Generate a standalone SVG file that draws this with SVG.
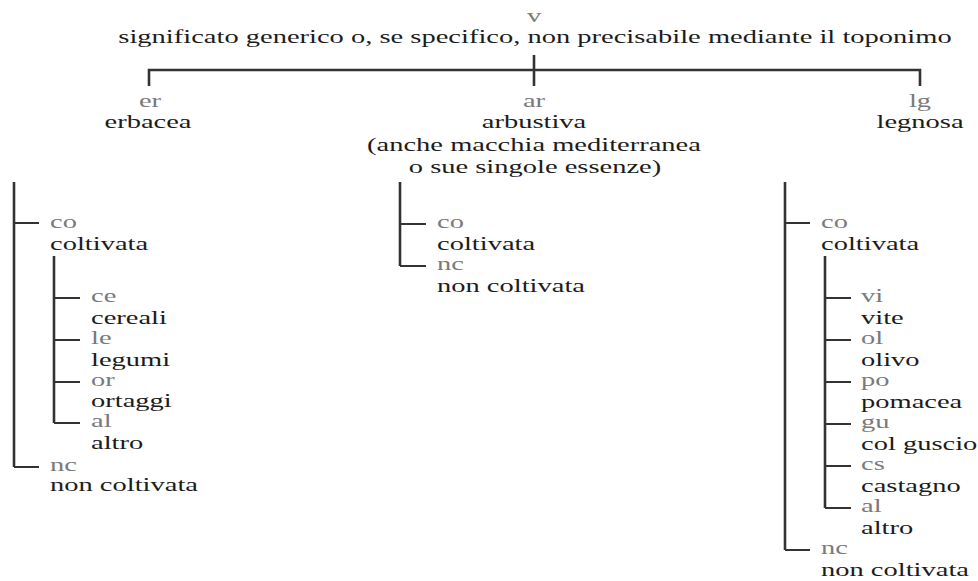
<svg xmlns="http://www.w3.org/2000/svg" width="978" height="581" viewBox="0 0 978 581" font-family="'Liberation Serif', 'Times New Roman', Times, serif" font-size="19">
  <style>
    .code { fill: #7a7a7a; }
    .lbl { fill: #1c1c1c; }
    .mid { text-anchor: middle; }
    .trunk { fill: none; stroke: #333; stroke-width: 2.6; }
    .twig { fill: none; stroke: #333; stroke-width: 2; }
  </style>
  <rect width="978" height="581" fill="#fff"/>

  <!-- connectors -->
  <g id="connectors">
    <path class="trunk" d="M149,86 V70 H920 V86 M534,55 V86"/>
    <!-- erbacea -->
    <path class="trunk" d="M14,182 V467"/>
    <path class="twig" d="M14,223 H39 M14,467 H39"/>
    <path class="trunk" d="M54,256 V423"/>
    <path class="twig" d="M54,298 H80 M54,340 H80 M54,382 H80 M54,423 H80"/>
    <!-- arbustiva -->
    <path class="trunk" d="M400,182 V266"/>
    <path class="twig" d="M400,224 H426 M400,266 H426"/>
    <!-- legnosa -->
    <path class="trunk" d="M785,182 V550"/>
    <path class="twig" d="M785,223 H810 M785,550 H810"/>
    <path class="trunk" d="M825,256 V508"/>
    <path class="twig" d="M825,298 H851 M825,340 H851 M825,382 H851 M825,424 H851 M825,466 H851 M825,508 H851"/>
  </g>

  <!-- root -->
  <g id="v">
    <text class="code mid" transform="translate(534 22) scale(1.5 1)">v</text>
    <text class="lbl mid" transform="translate(535 43) scale(1.5 1)">significato generico o, se specifico, non precisabile mediante il toponimo</text>
  </g>

  <!-- level 1 -->
  <g id="er">
    <text class="code mid" transform="translate(150 107) scale(1.5 1)">er</text>
    <text class="lbl mid" transform="translate(148 128) scale(1.5 1)">erbacea</text>
  </g>
  <g id="ar">
    <text class="code mid" transform="translate(534 107) scale(1.5 1)">ar</text>
    <text class="lbl mid" transform="translate(534 128) scale(1.5 1)">arbustiva</text>
    <text class="lbl mid" transform="translate(534 151) scale(1.5 1)">(anche macchia mediterranea</text>
    <text class="lbl mid" transform="translate(535 173) scale(1.5 1)">o sue singole essenze)</text>
  </g>
  <g id="lg">
    <text class="code mid" transform="translate(920 107) scale(1.5 1)">lg</text>
    <text class="lbl mid" transform="translate(920 128) scale(1.5 1)">legnosa</text>
  </g>

  <!-- erbacea children -->
  <g id="er-co">
    <text class="code" transform="translate(50 228) scale(1.5 1)">co</text>
    <text class="lbl" transform="translate(50 250) scale(1.5 1)">coltivata</text>
  </g>
  <g id="er-co-ce">
    <text class="code" transform="translate(91 302) scale(1.5 1)">ce</text>
    <text class="lbl" transform="translate(91 324) scale(1.5 1)">cereali</text>
  </g>
  <g id="er-co-le">
    <text class="code" transform="translate(91 344) scale(1.5 1)">le</text>
    <text class="lbl" transform="translate(91 366) scale(1.5 1)">legumi</text>
  </g>
  <g id="er-co-or">
    <text class="code" transform="translate(91 386) scale(1.5 1)">or</text>
    <text class="lbl" transform="translate(91 407) scale(1.5 1)">ortaggi</text>
  </g>
  <g id="er-co-al">
    <text class="code" transform="translate(91 427) scale(1.5 1)">al</text>
    <text class="lbl" transform="translate(91 449) scale(1.5 1)">altro</text>
  </g>
  <g id="er-nc">
    <text class="code" transform="translate(50 471) scale(1.5 1)">nc</text>
    <text class="lbl" transform="translate(50 491) scale(1.5 1)">non coltivata</text>
  </g>

  <!-- arbustiva children -->
  <g id="ar-co">
    <text class="code" transform="translate(437 228) scale(1.5 1)">co</text>
    <text class="lbl" transform="translate(437 250) scale(1.5 1)">coltivata</text>
  </g>
  <g id="ar-nc">
    <text class="code" transform="translate(437 270) scale(1.5 1)">nc</text>
    <text class="lbl" transform="translate(437 292) scale(1.5 1)">non coltivata</text>
  </g>

  <!-- legnosa children -->
  <g id="lg-co">
    <text class="code" transform="translate(821 228) scale(1.5 1)">co</text>
    <text class="lbl" transform="translate(821 250) scale(1.5 1)">coltivata</text>
  </g>
  <g id="lg-co-vi">
    <text class="code" transform="translate(861 302) scale(1.5 1)">vi</text>
    <text class="lbl" transform="translate(861 324) scale(1.5 1)">vite</text>
  </g>
  <g id="lg-co-ol">
    <text class="code" transform="translate(861 344) scale(1.5 1)">ol</text>
    <text class="lbl" transform="translate(861 366) scale(1.5 1)">olivo</text>
  </g>
  <g id="lg-co-po">
    <text class="code" transform="translate(861 386) scale(1.5 1)">po</text>
    <text class="lbl" transform="translate(861 408) scale(1.5 1)">pomacea</text>
  </g>
  <g id="lg-co-gu">
    <text class="code" transform="translate(861 428) scale(1.5 1)">gu</text>
    <text class="lbl" transform="translate(861 450) scale(1.5 1)">col guscio</text>
  </g>
  <g id="lg-co-cs">
    <text class="code" transform="translate(861 470) scale(1.5 1)">cs</text>
    <text class="lbl" transform="translate(861 492) scale(1.5 1)">castagno</text>
  </g>
  <g id="lg-co-al">
    <text class="code" transform="translate(861 512) scale(1.5 1)">al</text>
    <text class="lbl" transform="translate(861 534) scale(1.5 1)">altro</text>
  </g>
  <g id="lg-nc">
    <text class="code" transform="translate(821 554) scale(1.5 1)">nc</text>
    <text class="lbl" transform="translate(821 576) scale(1.5 1)">non coltivata</text>
  </g>
</svg>
